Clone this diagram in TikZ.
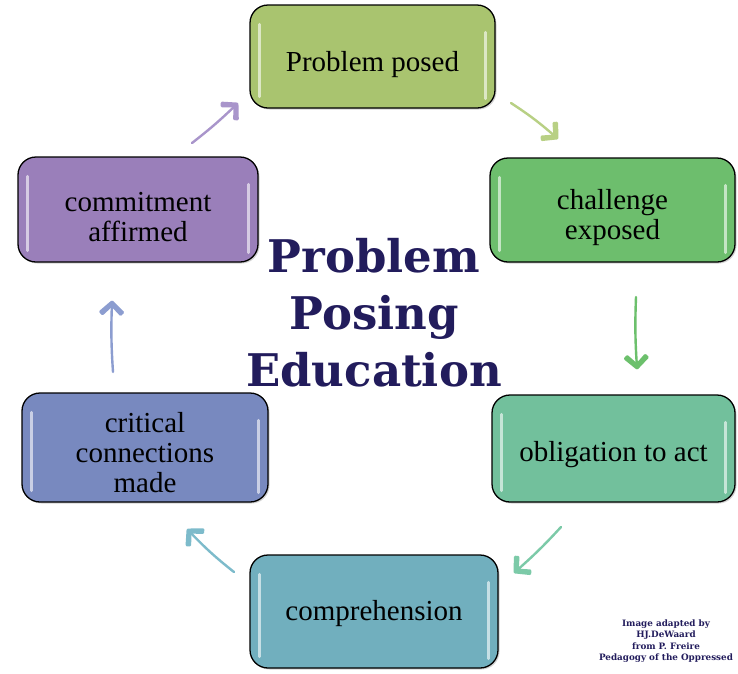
\documentclass[tikz,border=0pt]{standalone}
\usepackage{fontspec}
\setmainfont{Liberation Serif}
\newfontfamily\titlefont{DejaVu Serif}
\usetikzlibrary{shadows,decorations.markings}
\definecolor{cPP}{HTML}{A9C46F}
\definecolor{cCE}{HTML}{6DBE6D}
\definecolor{cOA}{HTML}{72C09C}
\definecolor{cCO}{HTML}{71AFBE}
\definecolor{cCC}{HTML}{7889BF}
\definecolor{cCA}{HTML}{9A7FBA}
\definecolor{aPP}{HTML}{B8D084}
\definecolor{aCE}{HTML}{6CC06C}
\definecolor{aOA}{HTML}{7CCAA8}
\definecolor{aCO}{HTML}{7DBBCB}
\definecolor{aCC}{HTML}{8C9DD0}
\definecolor{aCA}{HTML}{A995CB}
\definecolor{navy}{HTML}{221C5C}
\tikzset{
  stage/.style={rectangle, rounded corners=18pt, draw=black, line width=1.3pt,
    drop shadow={shadow xshift=1.5pt, shadow yshift=-1.5pt, opacity=0.35}},
  stagetext/.style={align=center, font=\fontsize{29}{30}\selectfont, text=black},
  gloss/.style={white, opacity=0.6, line width=3pt, line cap=round},
  flow/.style={line width=2.4pt, line cap=round, postaction={decorate},
    decoration={markings, mark=at position 1 with {
      \fill[rounded corners=1.2pt] (2pt,0pt) -- (-10pt,13pt) -- (-14pt,9pt) -- (-5pt,0pt)
        -- (-14pt,-9pt) -- (-10pt,-13pt) -- cycle;}}},
}
\begin{document}
\begin{tikzpicture}[x=1pt,y=1pt]
\useasboundingbox[fill=white] (0,0) rectangle (738,-673);
\node[stage, fill=cPP, minimum width=245pt, minimum height=103pt] (pp) at (372.5,-56.5) {};
\node[stage, fill=cCE, minimum width=245pt, minimum height=104pt] (ce) at (612.5,-210) {};
\node[stage, fill=cOA, minimum width=243pt, minimum height=107pt] (oa) at (613.5,-448.5) {};
\node[stage, fill=cCO, minimum width=248pt, minimum height=113pt] (co) at (374,-611.5) {};
\node[stage, fill=cCC, minimum width=246pt, minimum height=109pt] (cc) at (145,-447.5) {};
\node[stage, fill=cCA, minimum width=240pt, minimum height=105pt] (ca) at (138,-209.5) {};
\foreach \n in {pp,ce,oa,co,cc,ca}{
  \draw[gloss] ([shift={(10pt,-20pt)}]\n.north west) -- ([shift={(10pt,12pt)}]\n.south west);
  \draw[gloss] ([shift={(-10pt,-28pt)}]\n.north east) -- ([shift={(-10pt,10pt)}]\n.south east);
}
\node[stagetext] (tpp) at ([yshift=-8pt]pp.center) {Problem posed};
\node[stagetext] (tce) at ([yshift=-8pt]ce.center) {challenge\\exposed};
\node[stagetext] (toa) at ([yshift=-6pt]oa.center) {obligation to act};
\node[stagetext] (tco) at ([yshift=-2pt]co.center) {comprehension};
\node[stagetext] (tcc) at ([yshift=-5pt]cc.center) {critical\\connections\\made};
\node[stagetext] (tca) at ([yshift=-8pt]ca.center) {commitment\\affirmed};
\node[text=navy, align=center, font=\titlefont\bfseries\fontsize{45}{57}\selectfont] (title) at (374,-313) {Problem\\Posing\\Education};
\node[text=navy, align=center, font=\titlefont\bfseries\fontsize{8.8}{11.3}\selectfont] (credit) at (666,-641) {Image adapted by\\HJ.DeWaard\\from P. Freire\\Pedagogy of the Oppressed};
\coordinate (s1) at (511,-103); \coordinate (e1) at (557,-138);
\coordinate (s2) at (636,-297); \coordinate (e2) at (637,-368);
\coordinate (s3) at (561,-527); \coordinate (e3) at (515,-572);
\coordinate (s4) at (234,-572); \coordinate (e4) at (188,-530);
\coordinate (s5) at (113,-372); \coordinate (e5) at (112,-302);
\coordinate (s6) at (192,-143); \coordinate (e6) at (237,-104);
\draw[flow, aPP] (s1) to[bend left=4] (e1);
\draw[flow, aCE] (s2) to[bend right=3] (e2);
\draw[flow, aOA] (s3) to[bend left=3] (e3);
\draw[flow, aCO] (s4) to[bend left=4] (e4);
\draw[flow, aCC] (s5) to[bend left=3] (e5);
\draw[flow, aCA] (s6) to[bend right=3] (e6);
\end{tikzpicture}
\end{document}
